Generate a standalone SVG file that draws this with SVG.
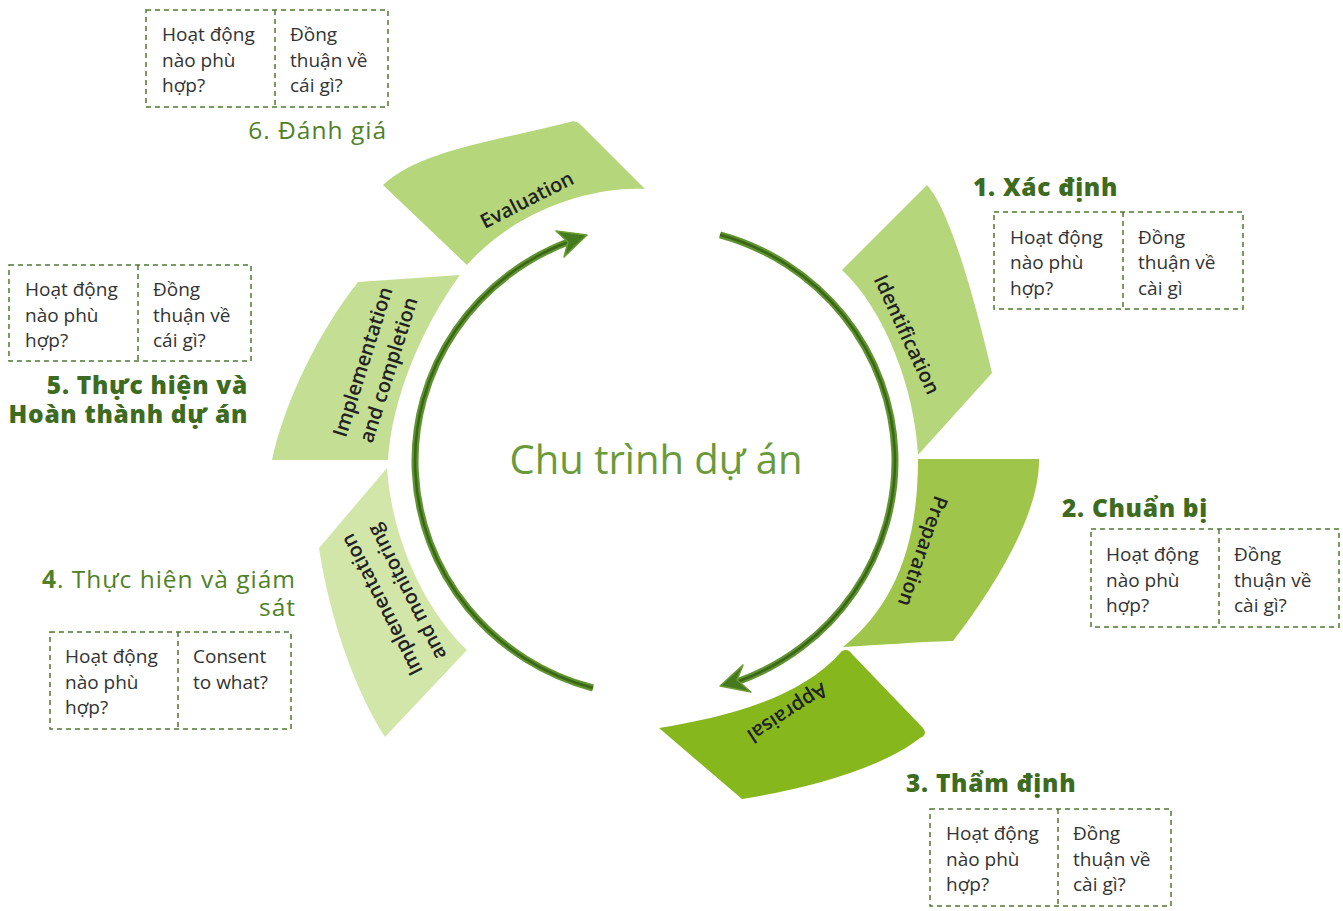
<svg xmlns="http://www.w3.org/2000/svg" width="1343" height="911" viewBox="0 0 1343 911">
<style>
.box{fill:none;stroke:#4f7a30;stroke-width:1.5;stroke-dasharray:5 4}
.bt{font-family:"Open Sans","DejaVu Sans",sans-serif;font-size:19px;fill:#333}
.hb{font-family:"Open Sans","DejaVu Sans",sans-serif;font-size:24.5px;font-weight:800;letter-spacing:0.7px;fill:#3d6b1f}
.hr{font-family:"Open Sans","DejaVu Sans",sans-serif;font-size:24.5px;letter-spacing:1px;fill:#4f8228}
.pl{font-family:"Open Sans","DejaVu Sans",sans-serif;font-size:20px;font-weight:600;fill:#222;text-anchor:middle}
.arcO{fill:none;stroke:#5f9330;stroke-width:7}
.arcI{fill:none;stroke:#3a6617;stroke-width:2.5}
.ah{fill:#467a1f;stroke:#6b9c34;stroke-width:1.5;stroke-linejoin:round}
</style>
<rect width="1343" height="911" fill="#fff"/>

<g id="connectors">
<path class="arcO" d="M593,688 A240 235 0 0 1 573.4,240"/>
<path class="arcI" d="M593,688 A240 235 0 0 1 573.4,240"/>
<path class="ah" d="M587,235 L556,231 L568,242 L564,257 Z"/>
<path class="arcO" d="M720,234.8 A240 235 0 0 1 736.6,682"/>
<path class="arcI" d="M720,234.8 A240 235 0 0 1 736.6,682"/>
<path class="ah" d="M720,686 L743,665 L737,680 L751,692 Z"/>
</g>

<g id="evaluation">
<path d="M383,185 C420,150 500,140 570,122 Q575,120 580,124 L645,189 C600,186 520,205 467,265 Z" fill="#b5d67a"/>
<text class="pl" transform="translate(530,206) rotate(-27)">Evaluation</text>
</g>

<g id="identification">
<path d="M927,185 C950,210 975,300 992,373 L918,455 C915,390 885,310 842,270 Z" fill="#b5d67a"/>
<text class="pl" transform="translate(906,335) rotate(65)" y="6">Identification</text>
</g>

<g id="preparation">
<path d="M918,459 L1039,459 C1040,510 1000,580 953,641 C915,642 880,645 843,647 C895,605 918,545 918,459 Z" fill="#9fc64a"/>
<text class="pl" transform="translate(922,551) rotate(109)" y="6">Preparation</text>
</g>

<g id="appraisal">
<path d="M659,728 C720,718 800,700 842,651 Q848,648 852,654 L923,728 Q928,735 920,738 C880,770 800,790 742,799 Z" fill="#86b81e"/>
<text class="pl" transform="translate(787,712) rotate(147)" y="6">Appraisal</text>
</g>

<g id="implementation-monitoring">
<path d="M387,468 C392,540 425,610 467,650 L385,737 C355,690 330,620 319,548 Z" fill="#d2e6aa"/>
<text class="pl" transform="translate(395,598) rotate(-117)"><tspan x="0" y="-8">Implementation</tspan><tspan x="0" y="20">and monitoring</tspan></text>
</g>

<g id="implementation-completion">
<path d="M358,282 L460,275 C420,330 392,400 388,460 L272,460 C285,400 320,330 358,282 Z" fill="#c4df94"/>
<text class="pl" transform="translate(376,366) rotate(-72.5)"><tspan x="0" y="-7">Implementation</tspan><tspan x="0" y="20">and completion</tspan></text>
</g>

<g id="center">
<text x="656" y="474" text-anchor="middle" font-family="'Open Sans','DejaVu Sans',sans-serif" font-size="40" fill="#6a9a3a">Chu trình dự án</text>
</g>

<g id="step1">
<text class="hb" x="973" y="196">1. Xác định</text>
<rect class="box" x="994" y="212" width="249" height="97"/>
<line class="box" x1="1123" y1="212" x2="1123" y2="309"/>
<text class="bt"><tspan x="1010" y="244">Hoạt động</tspan><tspan x="1010" y="269">nào phù</tspan><tspan x="1010" y="295">hợp?</tspan></text>
<text class="bt"><tspan x="1138" y="244">Đồng</tspan><tspan x="1138" y="269">thuận về</tspan><tspan x="1138" y="295">cài gì</tspan></text>
</g>

<g id="step2">
<text class="hb" x="1062" y="517">2. Chuẩn bị</text>
<rect class="box" x="1091" y="529" width="248" height="98"/>
<line class="box" x1="1219" y1="529" x2="1219" y2="627"/>
<text class="bt"><tspan x="1106" y="561">Hoạt động</tspan><tspan x="1106" y="587">nào phù</tspan><tspan x="1106" y="612">hợp?</tspan></text>
<text class="bt"><tspan x="1234" y="561">Đồng</tspan><tspan x="1234" y="587">thuận về</tspan><tspan x="1234" y="612">cài gì?</tspan></text>
</g>

<g id="step3">
<text class="hb" x="906" y="792">3. Thẩm định</text>
<rect class="box" x="930" y="809" width="241" height="97"/>
<line class="box" x1="1058" y1="809" x2="1058" y2="906"/>
<text class="bt"><tspan x="946" y="840">Hoạt động</tspan><tspan x="946" y="866">nào phù</tspan><tspan x="946" y="891">hợp?</tspan></text>
<text class="bt"><tspan x="1073" y="840">Đồng</tspan><tspan x="1073" y="866">thuận về</tspan><tspan x="1073" y="891">cài gì?</tspan></text>
</g>

<g id="step4">
<text class="hr" x="296" y="588" text-anchor="end"><tspan font-weight="bold">4</tspan>. Thực hiện và giám</text>
<text class="hr" x="296" y="616" text-anchor="end">sát</text>
<rect class="box" x="50" y="632" width="241" height="97"/>
<line class="box" x1="178" y1="632" x2="178" y2="729"/>
<text class="bt"><tspan x="65" y="663">Hoạt động</tspan><tspan x="65" y="689">nào phù</tspan><tspan x="65" y="714">hợp?</tspan></text>
<text class="bt"><tspan x="193" y="663">Consent</tspan><tspan x="193" y="689">to what?</tspan></text>
</g>

<g id="step5">
<rect class="box" x="9" y="265" width="242" height="96"/>
<line class="box" x1="138" y1="265" x2="138" y2="361"/>
<text class="bt"><tspan x="25" y="296">Hoạt động</tspan><tspan x="25" y="322">nào phù</tspan><tspan x="25" y="347">hợp?</tspan></text>
<text class="bt"><tspan x="153" y="296">Đồng</tspan><tspan x="153" y="322">thuận về</tspan><tspan x="153" y="347">cái gì?</tspan></text>
<text class="hb" x="248" y="394" text-anchor="end">5. Thực hiện và</text>
<text class="hb" x="248" y="423" text-anchor="end">Hoàn thành dự án</text>
</g>

<g id="step6">
<rect class="box" x="146" y="10" width="242" height="97"/>
<line class="box" x1="275" y1="10" x2="275" y2="107"/>
<text class="bt"><tspan x="162" y="41">Hoạt động</tspan><tspan x="162" y="67">nào phù</tspan><tspan x="162" y="92">hợp?</tspan></text>
<text class="bt"><tspan x="290" y="41">Đồng</tspan><tspan x="290" y="67">thuận về</tspan><tspan x="290" y="92">cái gì?</tspan></text>
<text class="hr" x="387" y="139" text-anchor="end">6. Đánh giá</text>
</g>
</svg>
